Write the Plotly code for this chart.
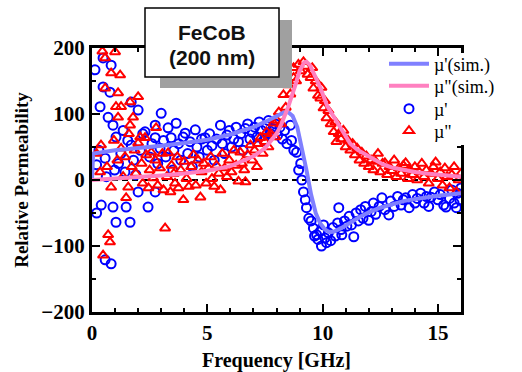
import plotly.graph_objects as go

# ---- data ----
sim_f_re = [0, 0.05, 1, 2, 3, 4, 5, 6, 7, 7.5, 8, 8.3, 8.5, 8.7, 8.9, 9.1, 9.3, 9.5, 9.7, 9.9,
            10.1, 10.3, 10.5, 10.8, 11.2, 11.6, 12, 12.5, 13, 13.5, 14, 14.5, 15, 15.5, 16]
sim_mu_re = [0, 40, 45, 48, 52, 56, 61, 69, 80, 88, 97, 102, 103, 97, 80, 50, 15, -22, -50, -66,
             -75, -79, -78, -73, -64, -56, -49, -42, -37, -32, -29, -26, -24, -22, -20]

sim_f_im = [0, 1, 2, 3, 4, 5, 6, 6.5, 7, 7.5, 8, 8.2, 8.5, 8.8, 9.0, 9.2, 9.3, 9.45, 9.6, 9.9,
            10.2, 10.5, 10.8, 11.2, 11.5, 11.8, 12.2, 12.6, 13, 13.5, 14, 14.5, 15, 15.5, 16]
sim_mu_im = [0, 2, 4, 7, 10, 14, 21, 28, 36, 48, 70, 84, 110, 142, 165, 178, 179, 174, 163, 140,
             112, 95, 76, 55, 46, 40, 31, 24, 19, 15, 12, 10, 8, 6.5, 5]

meas_f_re = [0.13, 0.2, 0.2, 0.3, 0.35, 0.4, 0.48, 0.48, 0.57, 0.57, 0.62, 0.7, 0.78, 0.83, 0.83,
             0.91, 0.91, 0.98, 1.04, 1.04, 1.15, 1.25, 1.35, 1.43, 1.48, 1.55, 1.65, 1.7, 1.7, 1.8,
             1.9, 2.0, 2.0, 2.1, 2.2, 2.3, 2.43, 2.5, 2.6, 2.74, 2.74, 2.74, 2.85, 2.95, 3.0, 3.1,
             3.2, 3.3, 3.43, 3.5, 3.55, 3.65, 3.75, 3.85, 3.95, 4.04, 4.15, 4.25, 4.35, 4.48, 4.55,
             4.65, 4.75, 4.9, 5.0, 5.1, 5.2, 5.3, 5.4, 5.57, 5.65, 5.75, 5.85, 5.95, 6.05, 6.15,
             6.25, 6.35, 6.45, 6.55, 6.65, 6.75, 6.85, 6.95, 7.05, 7.15, 7.25, 7.35, 7.45, 7.55,
             7.65, 7.75, 7.85, 7.95, 8.05, 8.15, 8.25, 8.35, 8.45, 8.6, 8.65, 8.75, 8.87, 8.96,
             9.05, 9.1, 9.17, 9.25, 9.3, 9.4, 9.5, 9.6, 9.65, 9.74, 9.8, 9.9, 9.95, 10.04, 10.1,
             10.17, 10.25, 10.35, 10.45, 10.55, 10.65, 10.7, 10.8, 10.83, 10.95, 11.05, 11.15,
             11.25, 11.35, 11.45, 11.55, 11.65, 11.75, 11.85, 12.0, 12.1, 12.2, 12.3, 12.45, 12.57,
             12.7, 12.87, 12.95, 13.1, 13.25, 13.4, 13.5, 13.6, 13.75, 13.9, 14.0, 14.1, 14.25,
             14.4, 14.5, 14.6, 14.7, 14.85, 15.0, 15.1, 15.25, 15.35, 15.5, 15.6, 15.7, 15.8,
             15.85, 15.95, 16.0]
meas_mu_re = [167, 23, -50, 45, 111, -38, 185, 141, 33, -121, 5, 95, 133, 174, -127,
              83, -41, 15, 65, -64, 25, 40, 75, 12, -41, 60, -64, 118, 53, 30,
              8, 106, -18, 45, 70, 73, -41, 35, 55, 83, 64, -18, 25, 48, 101, 60,
              35, 79, 64, 15, 45, 86, 55, 30, 65, 71, 40, 58, 20, 76, 50,
              35, 62, 64, 45, 70, 52, 30, 62, 83, 55, 40, 68, 75, 50, 62,
              80, 58, 70, 45, 78, 85, 62, 72, 80, 65, 88, 75, 60, 82,
              90, 70, 78, 85, 68, 80, 62, 75, 55, 83, 60, 45, 42, 15,
              25, 0, -18, -30, -42, -58, -62, -73, -85, -83, -90, -78, -100, -68, -88,
              -95, -80, -92, -72, -85, -65, -42, -75, -83, -62, -70, -55,
              -68, -86, -50, -62, -45, -58, -40, -61, -48, -35, -52, -40, -27,
              -45, -53, -32, -40, -25, -38, -30, -27, -42, -22, -35, -28, -20,
              -35, -25, -40, -26, -18, -30, -22, -38, -41, -28, -15, -35, -42,
              -20, -30, -12]

meas_f_im = [0.2, 0.35, 0.39, 0.45, 0.48, 0.57, 0.57, 0.65, 0.7, 0.78, 0.83, 0.83, 0.95, 1.0,
             1.04, 1.1, 1.13, 1.13, 1.22, 1.26, 1.26, 1.35, 1.43, 1.48, 1.57, 1.6, 1.65, 1.65,
             1.72, 1.78, 1.85, 1.9, 2.0, 2.0, 2.09, 2.15, 2.2, 2.3, 2.35, 2.45, 2.5, 2.57, 2.65,
             2.74, 2.78, 2.85, 2.95, 3.05, 3.1, 3.17, 3.25, 3.3, 3.4, 3.45, 3.55, 3.6, 3.7, 3.75,
             3.85, 3.96, 4.0, 4.1, 4.2, 4.3, 4.4, 4.5, 4.6, 4.7, 4.75, 4.85, 4.95, 5.05, 5.15,
             5.2, 5.3, 5.4, 5.5, 5.57, 5.65, 5.75, 5.85, 5.95, 6.05, 6.15, 6.25, 6.35, 6.43, 6.5,
             6.6, 6.65, 6.75, 6.87, 6.95, 7.05, 7.15, 7.2, 7.3, 7.4, 7.5, 7.57, 7.65, 7.75, 7.87,
             7.95, 8.02, 8.1, 8.2, 8.3, 8.4, 8.5, 8.6, 8.74, 8.74, 8.85, 8.95, 9.05, 9.17, 9.25,
             9.35, 9.48, 9.55, 9.6, 9.7, 9.8, 9.9, 9.95, 10.04, 10.1, 10.17, 10.25, 10.35, 10.48,
             10.55, 10.6, 10.7, 10.8, 10.9, 11.0, 11.1, 11.2, 11.3, 11.4, 11.5, 11.6, 11.7, 11.8,
             11.9, 12.0, 12.1, 12.2, 12.3, 12.4, 12.5, 12.6, 12.7, 12.8, 12.9, 13.0, 13.1, 13.2,
             13.3, 13.4, 13.5, 13.6, 13.7, 13.8, 13.9, 14.0, 14.1, 14.2, 14.3, 14.4, 14.5, 14.6,
             14.7, 14.8, 14.9, 15.0, 15.1, 15.2, 15.3, 15.4, 15.5, 15.6, 15.7, 15.8, 15.9, 16.0]
meas_mu_im = [40, 12, 53, 195, -114, 185, 139, 20, -83, -94, 162, -11, 60, 194,
              111, 30, 132, 95, 159, 111, 48, 5, 35, -27, -11, 70, 118, 83,
              20, 95, 45, 10, 126, 56, 65, 25, -5, 64, 38, -12, 15, 42, 3,
              30, 79, -8, 18, 40, -15, -73, 5, 41, -18, 22, 10, -5, 35, -12,
              15, -30, 28, 2, -10, 20, 38, -8, 30, -26, 12, 25, -5, 18, 35,
              2, -10, 22, 10, -15, 40, 18, 5, 30, 12, 45, 22, -2, 42, 25,
              15, -3, 38, 53, 30, 45, 20, 55, 64, 40, 58, 73, 50, 70, 86,
              65, 90, 103, 85, 129, 110, 144, 130, 155, 170, 150, 175, 165, 179, 172,
              160, 155, 170, 139, 150, 128, 124, 140, 109, 120, 94, 105, 85, 73,
              88, 58, 70, 62, 75, 50, 60, 45, 55, 38, 48, 30, 42, 25,
              36, 20, 30, 15, 28, 40, 12, 25, 26, 8, 20, 14, 30, 5,
              18, 10, 22, 26, 2, 15, 8, 20, 0, 12, 25, 5, 15, -5,
              10, 20, 27, 2, 12, -8, 18, 5, -12, 8, 20, -18, 0, 10]

x_tick_vals = [0, 5, 10, 15]
y_tick_vals = [-200, -100, 0, 100, 200]

# ---- figure ----
SERIF = "Liberation Serif"
L, R, T, B = 92, 61, 48, 60
W, H = 522, 372
pw, ph = W - L - R, H - T - B


def px_x(p):
    return (p - L) / pw


def px_y(p):
    return (H - B - p) / ph


fig = go.Figure()

fig.add_trace(go.Scatter(x=meas_f_re, y=meas_mu_re, mode="markers", name="µ'",
                         legend="legend3",
                         marker=dict(symbol="circle-open", size=9, color="#0000ff",
                                     line=dict(width=2, color="#0000ff"))))
fig.add_trace(go.Scatter(x=meas_f_im, y=meas_mu_im, mode="markers", name='µ"',
                         legend="legend4",
                         marker=dict(symbol="triangle-up-open", size=9, color="#ff0000",
                                     line=dict(width=2, color="#ff0000"))))
fig.add_trace(go.Scatter(x=sim_f_re, y=sim_mu_re, mode="lines", name="µ'(sim.)",
                         legend="legend", line=dict(color="#8080ff", width=4)))
fig.add_trace(go.Scatter(x=sim_f_im, y=sim_mu_im, mode="lines", name='µ"(sim.)',
                         legend="legend2", line=dict(color="#ff80c0", width=4)))

axis_common = dict(showline=True, linecolor="black", linewidth=3, mirror="allticks",
                   ticks="inside", ticklen=8, tickwidth=2, tickcolor="black",
                   showgrid=False, zeroline=False,
                   tickfont=dict(family=SERIF, size=21, color="black", weight="bold"))

fig.update_xaxes(range=[0, 16], tickvals=x_tick_vals, automargin=False,
                 minor=dict(dtick=1, ticks="inside", ticklen=4, tickwidth=2, tickcolor="black"),
                 title=dict(text="Frequency [GHz]", standoff=12,
                            font=dict(family=SERIF, size=20, color="black", weight="bold")),
                 **axis_common)
fig.update_yaxes(range=[-200, 200], tickvals=y_tick_vals, automargin=False,
                 minor=dict(dtick=50, ticks="inside", ticklen=4, tickwidth=2, tickcolor="black"),
                 title=dict(text="Relative Permeability", standoff=8,
                            font=dict(family=SERIF, size=19, color="black", weight="bold")),
                 **axis_common)

legend_rows = {"legend": 64, "legend2": 86, "legend3": 109, "legend4": 131}
legend_layouts = {}
for key, row in legend_rows.items():
    legend_layouts[key] = dict(x=px_x(384), y=px_y(row), xanchor="left", yanchor="middle",
                               bgcolor="rgba(0,0,0,0)", borderwidth=0, itemwidth=40,
                               font=dict(family=SERIF, size=18, color="black"))

fig.update_layout(
    width=W, height=H,
    showlegend=True,
    margin=dict(l=L, r=R, t=T, b=B),
    paper_bgcolor="white", plot_bgcolor="white",
    shapes=[
        dict(type="line", xref="paper", x0=0, x1=1, yref="y", y0=0, y1=0,
             line=dict(color="black", width=2, dash="6px,4px"), layer="below"),
        # white patch where the legend hides the right frame
        dict(type="rect", xref="paper", yref="paper",
             x0=px_x(440), x1=px_x(470), y0=px_y(145), y1=px_y(53),
             fillcolor="white", line=dict(width=0), layer="above"),
        dict(type="rect", xref="paper", yref="paper",
             x0=px_x(160), x1=px_x(292), y0=px_y(88), y1=px_y(20),
             fillcolor="#a0a0a0", line=dict(width=0), layer="above"),
        dict(type="rect", xref="paper", yref="paper",
             x0=px_x(145), x1=px_x(279), y0=px_y(77), y1=px_y(8),
             fillcolor="white", line=dict(color="black", width=1.5), layer="above"),
    ],
    annotations=[
        dict(text="FeCoB", xref="paper", yref="paper", x=px_x(212), y=px_y(33),
             showarrow=False, xanchor="center", yanchor="middle",
             font=dict(family="Liberation Sans", size=21, color="#111", weight="bold")),
        dict(text="(200 nm)", xref="paper", yref="paper", x=px_x(212), y=px_y(58),
             showarrow=False, xanchor="center", yanchor="middle",
             font=dict(family="Liberation Sans", size=21, color="#111", weight="bold")),
    ],
    **legend_layouts,
)

fig.write_html("out.html", config={"displayModeBar": False},
               post_script="document.body.style.margin='0';document.body.style.overflow='hidden';")
